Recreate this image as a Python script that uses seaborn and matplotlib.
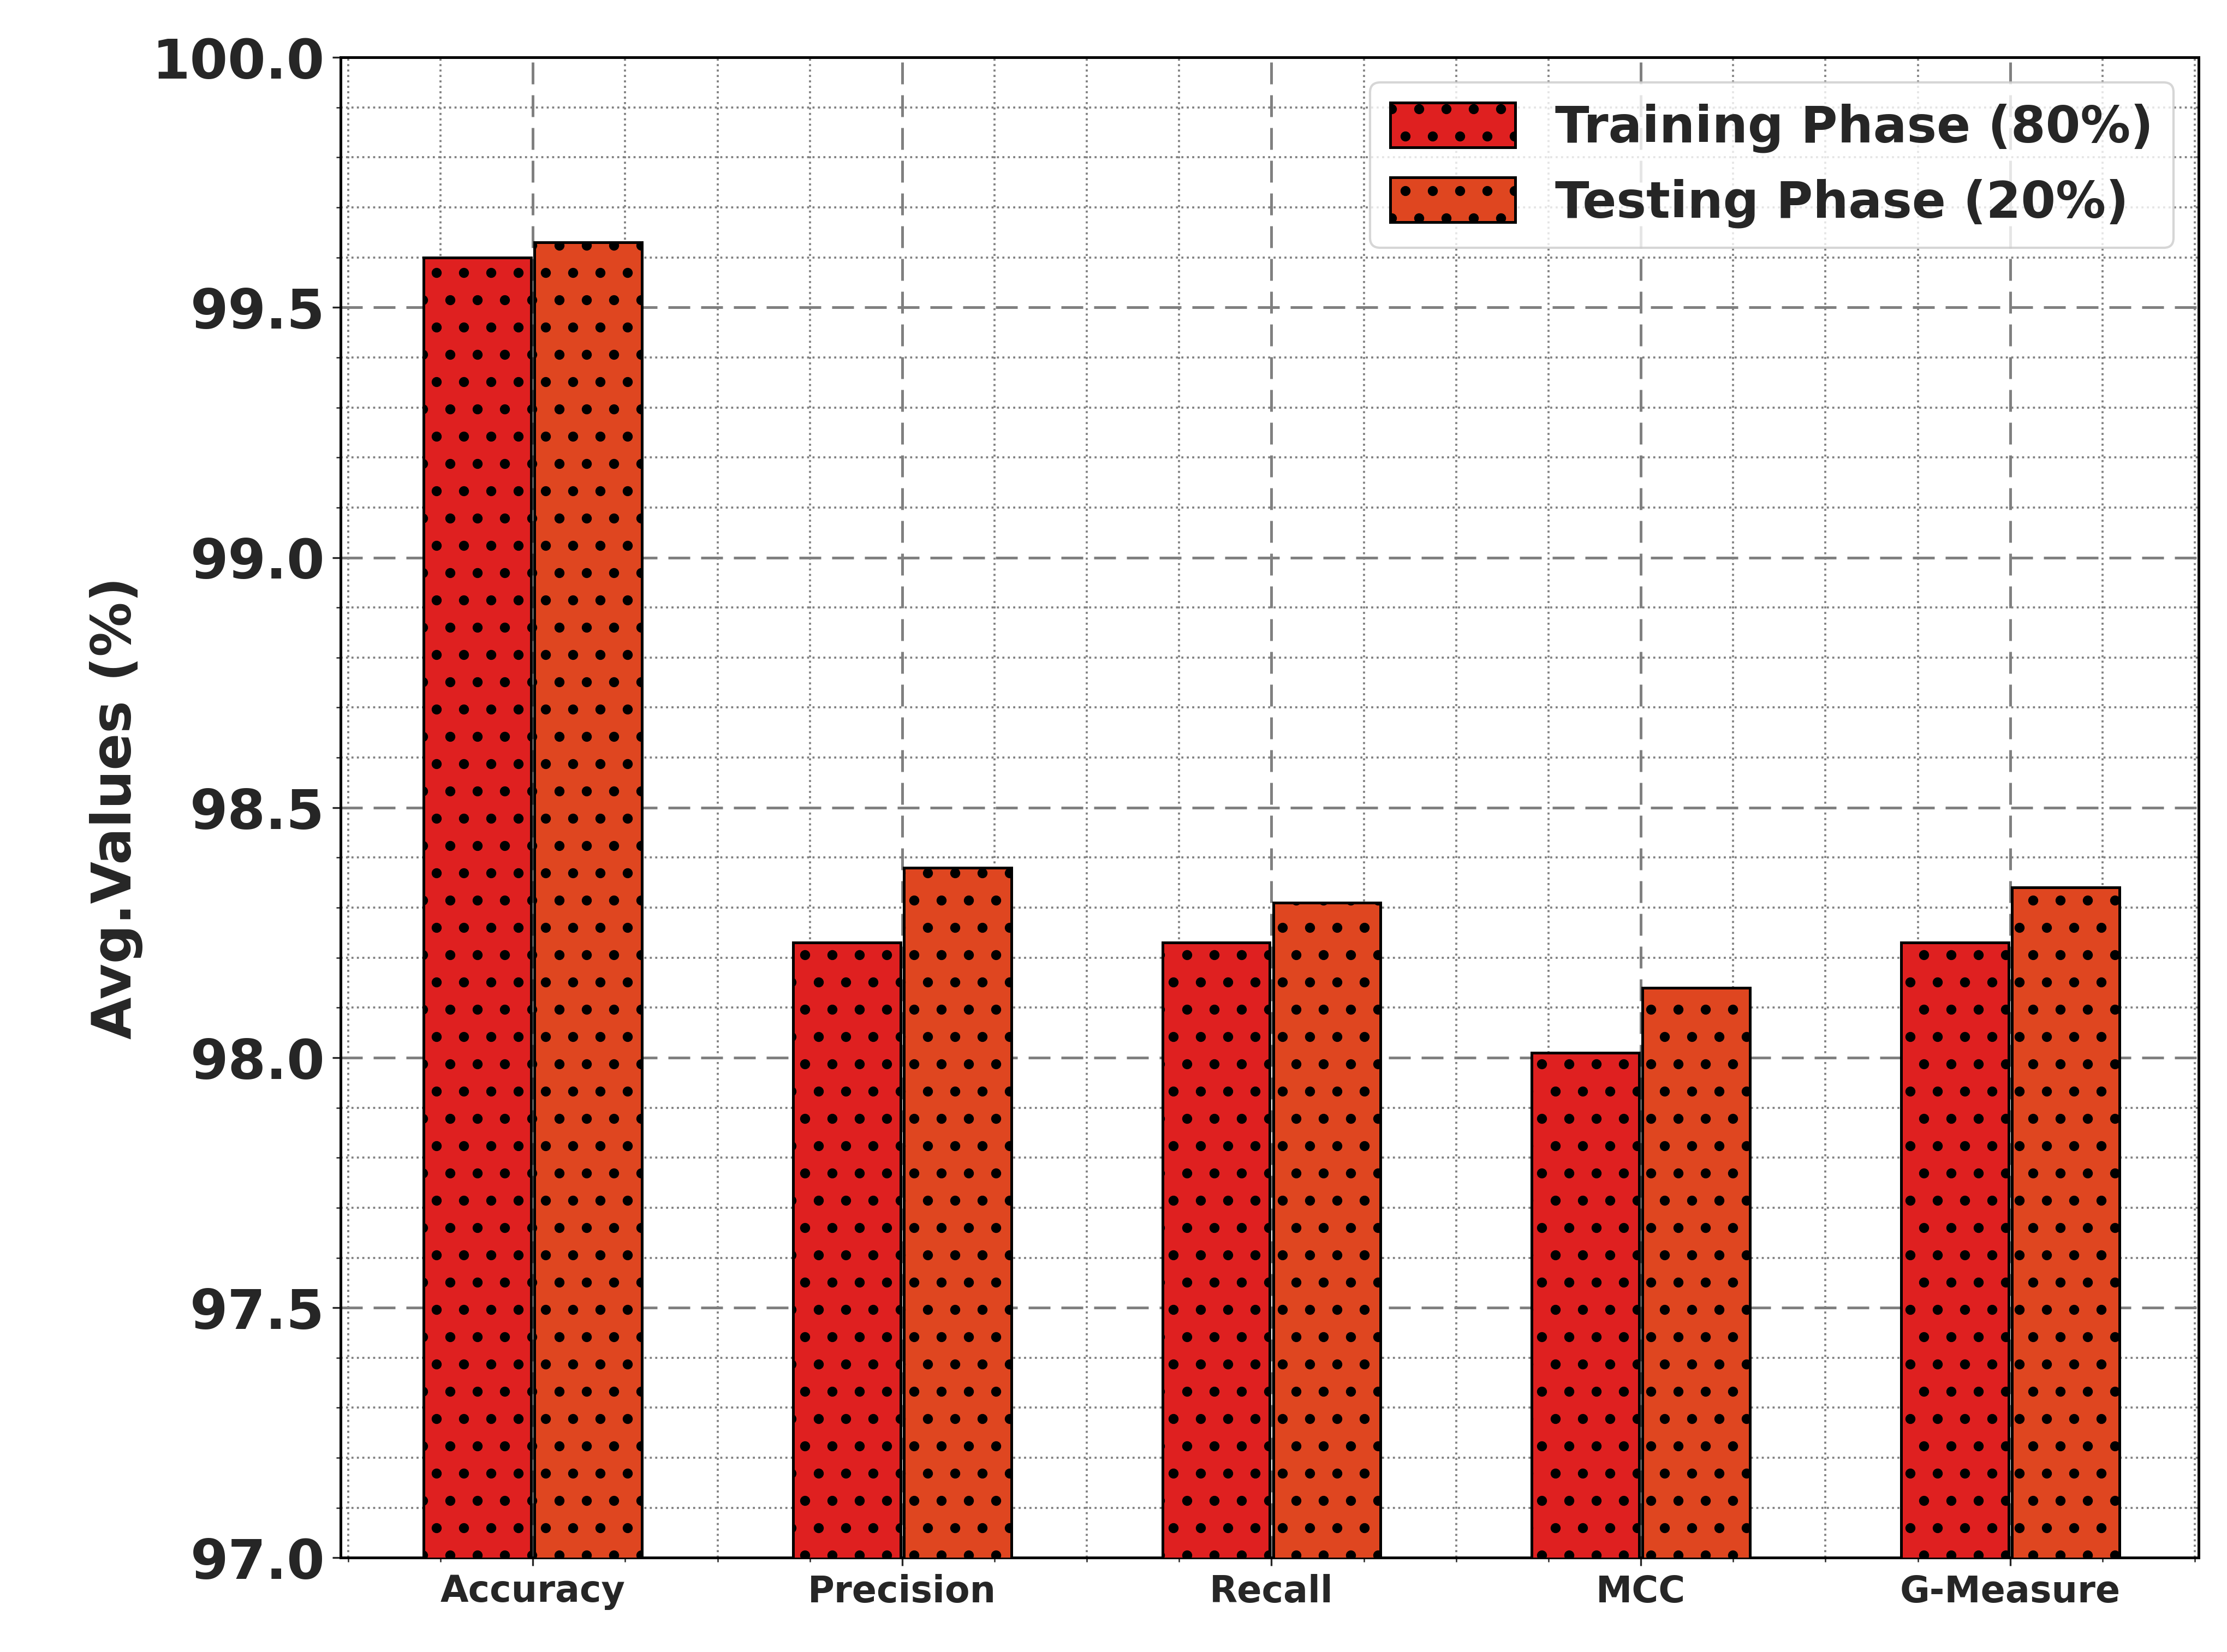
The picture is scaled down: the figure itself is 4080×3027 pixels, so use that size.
import matplotlib
matplotlib.use("Agg")
import matplotlib.pyplot as plt
import seaborn as sns
import pandas as pd
from matplotlib.ticker import MultipleLocator, AutoMinorLocator

metrics = ["Accuracy", "Precision", "Recall", "MCC", "G-Measure"]
train = [99.60, 98.23, 98.23, 98.01, 98.23]
test = [99.63, 98.38, 98.31, 98.14, 98.34]
phases = ["Training Phase (80%)", "Testing Phase (20%)"]
colors = ["#ff0000", "#ff3300"]

df = pd.DataFrame({
    "Metric": metrics * 2,
    "Value": train + test,
    "Phase": [phases[0]] * 5 + [phases[1]] * 5,
})

sns.set_style("white")
plt.rcParams["font.family"] = ["DejaVu Sans"]
plt.rcParams["hatch.linewidth"] = 2.0
fig = plt.figure(figsize=(13.603, 10.093), dpi=300)
ax = fig.add_axes([0.153, 0.057, 0.834, 0.908])
sns.barplot(data=df, x="Metric", y="Value", hue="Phase", palette=colors,
            width=0.6, gap=0.03, edgecolor="black", linewidth=1.2, ax=ax, zorder=3)
for p in ax.patches:
    p.set_hatch(".")
ax.set_ylim(97.0, 100.0)
ax.set_xlim(-0.52, 4.51)
ax.yaxis.set_major_locator(MultipleLocator(0.5))
ax.yaxis.set_minor_locator(MultipleLocator(0.1))
ax.xaxis.set_minor_locator(MultipleLocator(0.25))
ax.grid(which="major", linestyle=(0, (8, 4)), color="gray", linewidth=1.2, zorder=0)
ax.grid(which="minor", linestyle=":", color="gray", linewidth=0.9, zorder=0)
ax.set_axisbelow(True)
ax.tick_params(which="both", direction="out", left=True, bottom=True)
ax.tick_params(axis="y", labelsize=24)
ax.tick_params(axis="x", labelsize=16)
for lab in ax.get_xticklabels() + ax.get_yticklabels():
    lab.set_fontweight("bold")
ax.set_xlabel("")
ax.set_ylabel("Avg.Values (%)", fontsize=24, fontweight="bold")
for s in ax.spines.values():
    s.set_color("black")
    s.set_linewidth(1.2)
leg = ax.legend(loc="upper right", prop={"size": 22, "weight": "bold"}, frameon=True,
                handlelength=2.5, handleheight=1.0)
for h in leg.get_patches():
    h.set_hatch(".")
    h.set_edgecolor("black")
fig.savefig("out.png", dpi=300)
